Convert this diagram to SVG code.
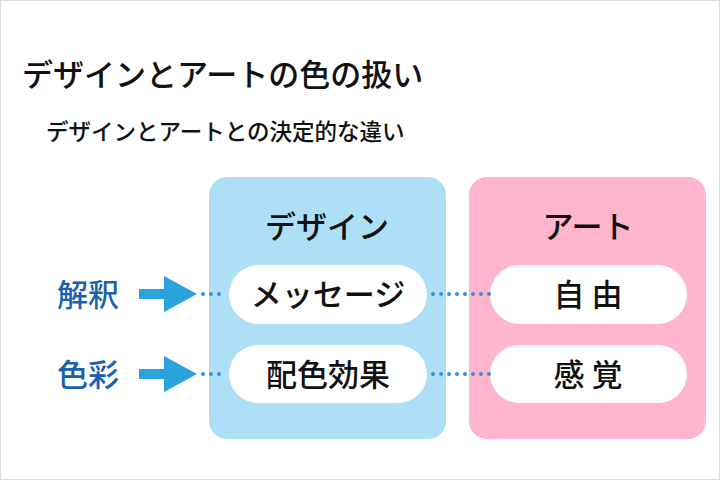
<svg xmlns="http://www.w3.org/2000/svg" width="720" height="480" viewBox="0 0 720 480">
<style>
text{font-family:"Noto Sans CJK JP",sans-serif;font-weight:500}
.h{font-size:31px;fill:#111}
.lbl{font-size:31px;fill:#111;text-anchor:middle}
.side{font-size:31px;fill:#1a5fb0;text-anchor:middle}
.pill{fill:#fff}
.dot{stroke:#3a8fcf;stroke-width:4;stroke-linecap:round;stroke-dasharray:0 8;fill:none}
.arr{fill:#2aa3dc}
</style>
<rect x="0.5" y="0.5" width="719" height="479" fill="#fff" stroke="#ddd"/>
<text x="22" y="86" class="h">デザインとアートの色の扱い</text>
<text x="46" y="140" style="font-size:22.5px;fill:#111">デザインとアートとの決定的な違い</text>
<g id="design"><rect x="209" y="177" width="237" height="262" rx="18" fill="#ade0f7"/><text x="327" y="238" class="lbl">デザイン</text></g>
<g id="art"><rect x="469" y="177" width="237" height="262" rx="18" fill="#ffb6cc"/><text x="588" y="238" class="lbl">アート</text></g>
<g id="message"><rect class="pill" x="229" y="265" width="198" height="59" rx="29.5"/><text x="328" y="306" class="lbl">メッセージ</text></g>
<g id="haishoku"><rect class="pill" x="229" y="345" width="198" height="58" rx="29"/><text x="328" y="386" class="lbl">配色効果</text></g>
<g id="jiyu"><text x="588" y="306" class="lbl"/><rect class="pill" x="490" y="265" width="197" height="59" rx="29.5"/><text x="588" y="306" class="lbl" xml:space="preserve">自 由</text></g>
<g id="kankaku"><rect class="pill" x="490" y="345" width="197" height="58" rx="29"/><text x="588" y="386" class="lbl" xml:space="preserve">感 覚</text></g>
<g id="kaishaku"><text x="88" y="306" class="side">解釈</text></g>
<g id="shikisai"><text x="88" y="386" class="side">色彩</text></g>
<g id="connectors">
<path class="arr" d="M139 289h25v-13l33 18-33 18v-13h-25z"/>
<path class="arr" d="M139 369h25v-13l33 18-33 18v-13h-25z"/>
<path class="dot" d="M203 294H227M433 294H490M203 374H227M433 374H490"/>
</g>
</svg>
